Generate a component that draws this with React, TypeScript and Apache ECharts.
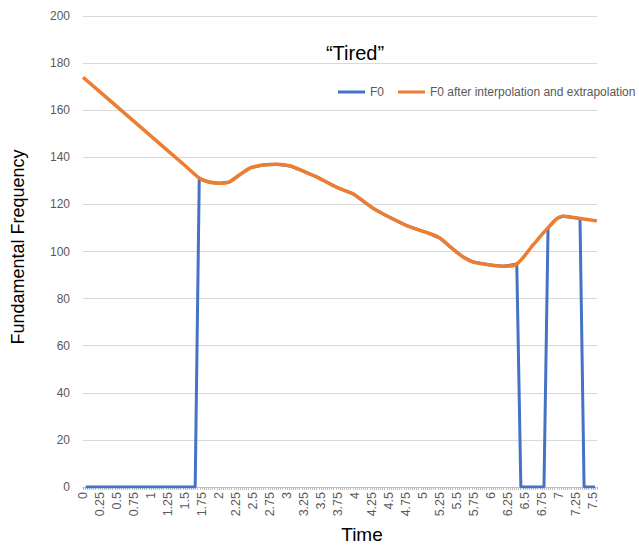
import React, { useEffect, useRef } from "react";
import * as echarts from "echarts";

// Orange: F0 after interpolation and extrapolation
const interpTime = [0, 0.5, 1.0, 1.5, 1.72, 1.85, 2.0, 2.15, 2.3, 2.46, 2.65, 2.85, 3.05, 3.25, 3.45, 3.75, 3.97, 4.26, 4.41, 4.76, 5.06, 5.25, 5.4, 5.59, 5.74, 5.99, 6.18, 6.38, 6.62, 6.82, 6.97, 7.06, 7.31, 7.56];
const interpF0 = [174, 161.5, 149, 136.5, 131, 129.5, 129, 129.5, 132.5, 135.5, 136.7, 137, 136.3, 134, 131.5, 127, 124.5, 118.5, 116, 111, 108, 105.7, 102, 97.7, 95.5, 94.3, 93.7, 94.7, 102.8, 109.5, 114, 115, 114, 113];

// Blue: raw F0 (0 = unvoiced)
const rawTime = [0.04, 1.65, 1.71, 1.85, 2.0, 2.15, 2.3, 2.46, 2.65, 2.85, 3.05, 3.25, 3.45, 3.75, 3.97, 4.26, 4.41, 4.76, 5.06, 5.25, 5.4, 5.59, 5.74, 5.99, 6.18, 6.38, 6.44, 6.78, 6.84, 6.97, 7.06, 7.31, 7.37, 7.53];
const rawF0 = [0, 0, 131, 129.5, 129, 129.5, 132.5, 135.5, 136.7, 137, 136.3, 134, 131.5, 127, 124.5, 118.5, 116, 111, 108, 105.7, 102, 97.7, 95.5, 94.3, 93.7, 94.7, 0, 0, 110, 114, 115, 114, 0, 0];

const titleText = "\u201CTired\u201D";
const seriesNames = ["F0", "F0 after interpolation and extrapolation"];
const xTitle = "Time";
const yTitle = "Fundamental Frequency";

const FONT = "'Liberation Sans', 'Noto Sans', sans-serif";

export default function App() {
  const ref = useRef<HTMLDivElement>(null);
  useEffect(() => {
    if (!ref.current) return;
    const chart = echarts.init(ref.current, null, { renderer: "svg" });
    chart.setOption({
      animation: false,
      backgroundColor: "#ffffff",
      textStyle: { fontFamily: FONT },
      title: {
        text: titleText,
        left: 350,
        top: 38,
        textAlign: "center",
        textStyle: { fontSize: 20, fontWeight: "normal", color: "#000000", fontFamily: FONT },
      },
      legend: {
        left: 333,
        top: 81,
        width: 600,
        itemWidth: 27,
        itemHeight: 3,
        itemGap: 14,
        icon: "rect",
        textStyle: { fontSize: 12, color: "#595959", fontFamily: FONT },
        data: seriesNames,
      },
      grid: { left: 83, right: 42, top: 16, bottom: 58, containLabel: false },
      xAxis: {
        type: "value",
        min: 0,
        max: 7.56,
        interval: 0.25,
        axisLine: { show: true, lineStyle: { color: "#bfbfbf", width: 1 } },
        axisTick: { show: true, length: 3, lineStyle: { color: "#bfbfbf" } },
        minorTick: { show: true, splitNumber: 8, length: 3, lineStyle: { color: "#bfbfbf" } },
        splitLine: { show: false },
        axisLabel: {
          rotate: 90,
          fontSize: 12.5,
          color: "#595959",
          fontFamily: FONT,
          margin: 5,
          showMaxLabel: false,
        },
      },
      yAxis: {
        type: "value",
        min: 0,
        max: 200,
        interval: 20,
        axisLine: { show: false },
        axisTick: { show: false },
        splitLine: { lineStyle: { color: "#d9d9d9", width: 1 } },
        axisLabel: { fontSize: 12, color: "#595959", fontFamily: FONT, margin: 13 },
      },
      graphic: [
        {
          type: "text",
          x: 18,
          y: 247,
          rotation: Math.PI / 2,
          style: {
            text: yTitle,
            fontSize: 18,
            fill: "#000000",
            fontFamily: FONT,
            align: "center",
            verticalAlign: "middle",
          },
        },
        {
          type: "text",
          x: 362,
          y: 534,
          style: {
            text: xTitle,
            fontSize: 19,
            fill: "#000000",
            fontFamily: FONT,
            align: "center",
            verticalAlign: "middle",
          },
        },
      ],
      series: [
        {
          name: seriesNames[0],
          type: "line",
          data: rawTime.map((t, i) => [t, rawF0[i]]),
          showSymbol: false,
          symbol: "none",
          lineStyle: { color: "#4472C4", width: 3 },
          itemStyle: { color: "#4472C4" },
          z: 2,
        },
        {
          name: seriesNames[1],
          type: "line",
          data: interpTime.map((t, i) => [t, interpF0[i]]),
          smooth: 0.3,
          showSymbol: false,
          symbol: "none",
          lineStyle: { color: "#ED7D31", width: 3.5 },
          itemStyle: { color: "#ED7D31" },
          z: 3,
        },
      ],
    });
    return () => chart.dispose();
  }, []);
  return <div ref={ref} style={{ position: "absolute", left: 0, top: 0, width: 639, height: 545 }} />;
}
